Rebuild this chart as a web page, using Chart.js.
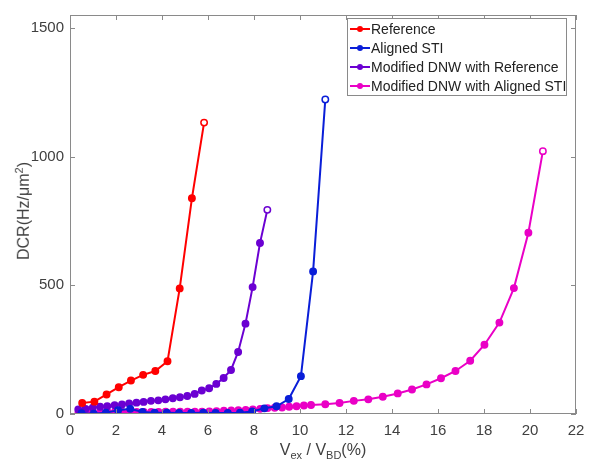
<!DOCTYPE html>
<html>
<head>
<meta charset="utf-8">
<script src="https://cdn.jsdelivr.net/npm/chart.js@4.4.1/dist/chart.umd.min.js"></script>
<style>
  body { margin: 0; background: #fff; }
  #wrap { position: relative; width: 597px; height: 464px; font-family: 'Liberation Sans', Arial, sans-serif; color: #404040; }
  #xTitle { position: absolute; left: 0; width: 646px; top: 441px; text-align: center; font-size: 16px; }
  #yTitle { position: absolute; left: 23px; top: 211px; font-size: 16px; white-space: nowrap;
            transform: translate(-50%, -50%) rotate(-90deg); }
  sub, sup { font-size: 11px; }
</style>
</head>
<body>
<div id="wrap">
  <canvas id="c" width="597" height="464"></canvas>
  <div id="xTitle">V<sub>ex</sub> / V<sub>BD</sub>(%)</div>
  <div id="yTitle">DCR(Hz/μm<sup>2</sup>)</div>
</div>
<script>
// series: x = Vex/VBD (%), y = DCR (Hz/um^2)
const refX = [0.53, 1.06, 1.59, 2.12, 2.65, 3.18, 3.71, 4.24, 4.77, 5.30, 5.83];
const refY = [43, 48, 76, 104, 130, 152, 167, 205, 488, 838, 1132];

const stiX = [0.50, 1.03, 1.56, 2.09, 2.62, 3.15, 3.68, 4.21, 4.74, 5.27, 5.80,
              6.33, 6.86, 7.39, 7.92, 8.45, 8.98, 9.51, 10.04, 10.57, 11.10];
const stiY = [3, 1, 5, 15, 20, 8, 5, 5, 4, 4, 5, 4, 4, 5, 10, 22, 30, 58, 147, 554, 1222];

const dnwRefX = [0.36, 0.68, 0.99, 1.31, 1.62, 1.94, 2.26, 2.57, 2.89, 3.20, 3.52, 3.84, 4.15, 4.47,
                 4.78, 5.10, 5.42, 5.73, 6.05, 6.36, 6.68, 7.00, 7.31, 7.63, 7.94, 8.26, 8.58];
const dnwRefY = [18, 20, 24, 28, 30, 34, 37, 41, 44, 47, 51, 53, 57, 61,
                 65, 70, 78, 91, 100, 117, 140, 171, 241, 351, 493, 664, 793];

const dnwStiX = [0.37, 0.69, 1.00, 1.32, 1.63, 1.95, 2.27, 2.58, 2.90, 3.21, 3.53, 3.85, 4.16, 4.48,
                 4.79, 5.11, 5.43, 5.74, 6.06, 6.37, 6.69, 7.01, 7.32, 7.64, 7.95, 8.27, 8.59,
                 8.90, 9.22, 9.53, 9.85, 10.17, 10.48,
                 11.10, 11.72, 12.34, 12.97, 13.60, 14.25, 14.87, 15.50, 16.13, 16.76, 17.40,
                 18.02, 18.67, 19.30, 19.93, 20.56];
const dnwStiY = [7, 7, 7, 7, 8, 8, 8, 8, 8, 8, 8, 8, 9, 9,
                 9, 9, 9, 9, 10, 11, 13, 14, 15, 16, 18, 20, 23,
                 24, 25, 28, 30, 33, 35,
                 38, 43, 51, 57, 67, 80, 95, 115, 139, 167, 207,
                 269, 355, 489, 704, 1021];

const seriesNames = ['Reference', 'Aligned STI', 'Modified DNW with Reference', 'Modified DNW with Aligned STI'];
const seriesColors = ['#ff0000', '#0a1ed8', '#6b00d2', '#ea00c6'];
const xTicks = [0, 2, 4, 6, 8, 10, 12, 14, 16, 18, 20, 22];
const yTicks = [0, 500, 1000, 1500];

const xs = [refX, stiX, dnwRefX, dnwStiX];
const ys = [refY, stiY, dnwRefY, dnwStiY];

const datasets = seriesNames.map((name, k) => {
  const n = xs[k].length;
  return {
    label: name,
    data: xs[k].map((x, i) => ({ x: x, y: ys[k][i] })),
    showLine: true,
    borderColor: seriesColors[k],
    borderWidth: 2,
    pointRadius: 3.2,
    pointBorderWidth: 1.5,
    pointBorderColor: seriesColors[k],
    // last marker of each curve is drawn open
    pointBackgroundColor: xs[k].map((_, i) => i === n - 1 ? '#ffffff' : seriesColors[k]),
    tension: 0
  };
});

// box around plot, inward ticks on all four sides, and the legend
const framePlugin = {
  id: 'frame',
  afterDraw(chart) {
    const ctx = chart.ctx;
    const a = chart.chartArea;
    const sx = chart.scales.x, sy = chart.scales.y;
    ctx.save();
    ctx.strokeStyle = '#8a8a8a';
    ctx.lineWidth = 1;
    ctx.strokeRect(a.left + 0.5, a.top + 0.5, a.right - a.left - 1, a.bottom - a.top - 1);
    ctx.beginPath();
    xTicks.forEach(v => {
      const px = Math.round(sx.getPixelForValue(v)) + 0.5;
      ctx.moveTo(px, a.bottom); ctx.lineTo(px, a.bottom - 5);
      ctx.moveTo(px, a.top); ctx.lineTo(px, a.top + 5);
    });
    yTicks.forEach(v => {
      const py = Math.round(sy.getPixelForValue(v)) + 0.5;
      ctx.moveTo(a.left, py); ctx.lineTo(a.left + 5, py);
      ctx.moveTo(a.right, py); ctx.lineTo(a.right - 5, py);
    });
    ctx.stroke();

    // legend
    const lx = 347, ly = 18, lw = 219, lh = 77;
    ctx.fillStyle = '#ffffff';
    ctx.fillRect(lx, ly, lw, lh);
    ctx.strokeStyle = '#8a8a8a';
    ctx.strokeRect(lx + 0.5, ly + 0.5, lw, lh);
    ctx.font = '14px "Liberation Sans", Arial, sans-serif';
    ctx.textBaseline = 'middle';
    seriesNames.forEach((name, k) => {
      const yy = 29 + k * 19;
      ctx.strokeStyle = seriesColors[k];
      ctx.lineWidth = 2;
      ctx.beginPath();
      ctx.moveTo(350, yy); ctx.lineTo(370, yy);
      ctx.stroke();
      ctx.fillStyle = seriesColors[k];
      ctx.beginPath();
      ctx.arc(360, yy, 3, 0, Math.PI * 2);
      ctx.fill();
      ctx.fillStyle = '#222222';
      ctx.fillText(name, 371, yy + 1);
    });
    ctx.restore();
  }
};

new Chart(document.getElementById('c'), {
  type: 'scatter',
  data: { datasets: datasets },
  options: {
    responsive: false,
    animation: false,
    layout: { padding: { top: 7, right: 21, left: 0, bottom: 0 } },
    plugins: { legend: { display: false }, tooltip: { enabled: false } },
    scales: {
      x: {
        type: 'linear', min: 0, max: 22,
        afterBuildTicks: s => { s.ticks = xTicks.map(v => ({ value: v })); },
        afterFit: s => { s.height = 50; },
        grid: { display: false, drawTicks: false },
        border: { display: false },
        ticks: { padding: 8, color: '#404040', font: { family: "'Liberation Sans', Arial, sans-serif", size: 15 },
                 maxRotation: 0, callback: v => String(v) }
      },
      y: {
        type: 'linear', min: 0, max: 1550,
        afterBuildTicks: s => { s.ticks = yTicks.map(v => ({ value: v })); },
        afterFit: s => { s.width = 70; },
        grid: { display: false, drawTicks: false },
        border: { display: false },
        ticks: { padding: 6, color: '#404040', font: { family: "'Liberation Sans', Arial, sans-serif", size: 15 },
                 callback: v => String(v) }
      }
    }
  },
  plugins: [framePlugin]
});
</script>
</body>
</html>
